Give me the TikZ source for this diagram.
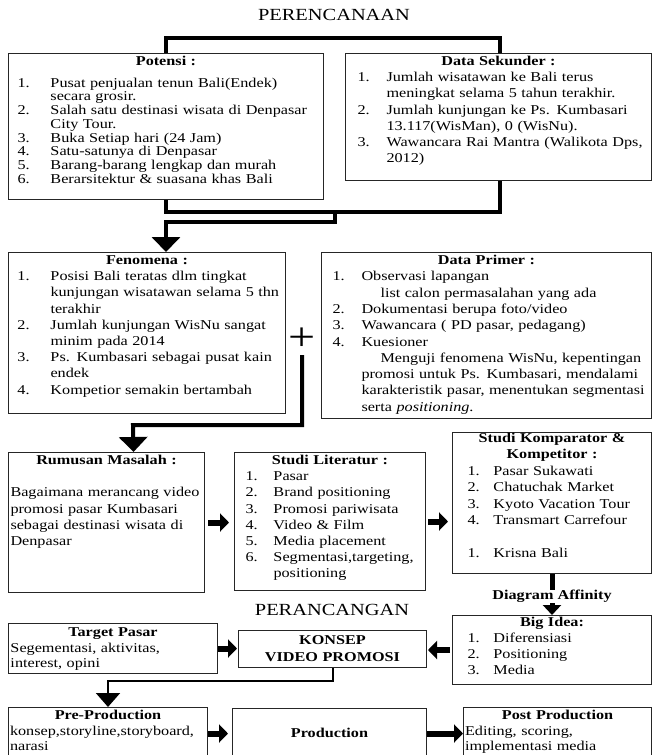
\documentclass[tikz,border=0pt]{standalone}
\usepackage{fontspec}
\setmainfont{Liberation Serif}[FakeStretch=1.2]
\usepackage{tikz}
\usetikzlibrary{arrows.meta, positioning, backgrounds}

\newlength{\numcol}
\newcommand{\nline}[2]{\mbox{\makebox[\numcol][l]{#1}#2}}

\begin{document}
\begin{tikzpicture}[
        x=1pt, y=-1pt,
        box/.style={rectangle, draw=black!85, fill=white, line width=1pt, anchor=north west, align=left, inner ysep=0pt, text height=12pt, font=\fontsize{13.5}{16.2}\selectfont},
        numcol/.code={\setlength{\numcol}{#1}},
        heading/.style={font=\fontsize{17}{17}\selectfont},
        thick_line/.style={line width=4pt},
        big_arrow/.style={thick_line, -{Triangle[width=28pt, length=15pt]}},
        small_arrow/.style={line width=6pt, -{Triangle[width=18pt, length=9pt]}}
    ]
    \useasboundingbox (0,0) rectangle (653,755);
    \clip (0,0) rectangle (653,755);

    \node[heading] (plan) at (334,15) {PERENCANAAN};
    \node[box, numcol=33pt, inner xsep=9pt, text width=297pt, text depth=134pt, font=\fontsize{13.5}{13.7}\selectfont] (potensi) at (8,53) {{\centering\textbf{Potensi :}\par}\vspace{8pt}\nline{1.}{Pusat penjualan tenun Bali(Endek)}\\ \nline{}{secara grosir.}\\ \nline{2.}{Salah satu destinasi wisata di Denpasar}\\ \nline{}{City Tour.}\\ \nline{3.}{Buka Setiap hari (24 Jam)}\\ \nline{4.}{Satu-satunya di Denpasar}\\ \nline{5.}{Barang-barang lengkap dan murah}\\ \nline{6.}{Berarsitektur \& suasana khas Bali}};
    \node[box, numcol=29pt, inner xsep=12pt, text width=282pt, text depth=115pt] (sekunder) at (345,53) {{\centering\textbf{Data Sekunder :}\par}\nline{1.}{Jumlah wisatawan ke Bali terus}\\ \nline{}{meningkat selama 5 tahun terakhir.}\\ \nline{2.}{Jumlah kunjungan ke Ps. Kumbasari}\\ \nline{}{13.117(WisMan), 0 (WisNu).}\\ \nline{3.}{Wawancara Rai Mantra (Walikota Dps,}\\ \nline{}{2012)}};

    \node[box, numcol=33pt, inner xsep=9pt, text width=259pt, text depth=149pt] (fenomena) at (8,252) {{\centering\textbf{Fenomena :}\par}\nline{1.}{Posisi Bali teratas dlm tingkat}\\ \nline{}{kunjungan wisatawan selama 5 thn}\\ \nline{}{terakhir}\\ \nline{2.}{Jumlah kunjungan WisNu sangat}\\ \nline{}{minim pada 2014}\\ \nline{3.}{Ps. Kumbasari sebagai pusat kain}\\ \nline{}{endek}\\ \nline{4.}{Kompetior semakin bertambah}};
    \node[box, numcol=29pt, inner xsep=11pt, text width=308pt, text depth=154pt, font=\fontsize{13.5}{16.3}\selectfont] (primer) at (321,252) {{\centering\textbf{Data Primer :}\par}\nline{1.}{Observasi lapangan}\\ \nline{}{\hspace*{19pt}list calon permasalahan yang ada}\\ \nline{2.}{Dokumentasi berupa foto/video}\\ \nline{3.}{Wawancara ( PD pasar, pedagang)}\\ \nline{4.}{Kuesioner}\\ \nline{}{\hspace*{19pt}Menguji fenomena WisNu, kepentingan}\\ \nline{}{promosi untuk Ps. Kumbasari, mendalami}\\ \nline{}{karakteristik pasar, menentukan segmentasi}\\ \nline{}{serta \textit{positioning}.}};
    \node[font=\fontsize{40}{40}\selectfont, anchor=south, inner sep=0pt] (plus) at (302,351) {+};

    \node[box, inner xsep=2pt, text width=192pt, text depth=128pt] (rumusan) at (8,452) {{\centering\textbf{Rumusan Masalah :}\par}\vspace{16.2pt}\mbox{Bagaimana merancang video}\\ \mbox{promosi pasar Kumbasari}\\ \mbox{sebagai destinasi wisata di}\\ Denpasar};
    \node[box, numcol=28pt, inner xsep=11pt, text width=169pt, text depth=126pt] (literatur) at (234,452) {{\centering\textbf{Studi Literatur :}\par}\nline{1.}{Pasar}\\ \nline{2.}{Brand positioning}\\ \nline{3.}{Promosi pariwisata}\\ \nline{4.}{Video \& Film}\\ \nline{5.}{Media placement}\\ \nline{6.}{Segmentasi,targeting,}\\ \nline{}{positioning}};
    \node[box, numcol=26pt, inner xsep=15pt, text width=169pt, text height=10pt, text depth=131pt, font=\fontsize{13.5}{16.4}\selectfont] (komparator) at (452,432) {{\centering\textbf{Studi Komparator \&}\\\textbf{Kompetitor :}\par}\nline{1.}{Pasar Sukawati}\\ \nline{2.}{Chatuchak Market}\\ \nline{3.}{Kyoto Vacation Tour}\\ \nline{4.}{Transmart Carrefour}\\[16.4pt] \nline{1.}{Krisna Bali}};

    \node[heading] (design) at (332,610) {PERANCANGAN};
    \node[box, inner xsep=2pt, text width=205pt, text height=13pt, text depth=37pt, font=\fontsize{13.5}{15.5}\selectfont] (target) at (8,623) {{\centering\textbf{Target Pasar}\par}\mbox{Segementasi, aktivitas,}\\ interest, opini};
    \node[box, align=center, inner xsep=2pt, text width=184pt, text height=14pt, text depth=23pt, font=\bfseries\fontsize{13.5}{17}\selectfont] (konsep) at (238,630) {KONSEP\\ VIDEO PROMOSI};
    \node[box, numcol=26pt, inner xsep=15pt, text width=169pt, text height=11pt, text depth=58pt, font=\fontsize{13.5}{16}\selectfont] (bigidea) at (452,615) {{\centering\textbf{Big Idea:}\par}\nline{1.}{Diferensiasi}\\ \nline{2.}{Positioning}\\ \nline{3.}{Media}};

    \node[box, inner xsep=1.5pt, text width=196pt, text depth=40pt, font=\fontsize{13.5}{15.5}\selectfont] (preprod) at (8,707) {{\centering\textbf{Pre-Production}\par}\mbox{konsep,storyline,storyboard,}\\ narasi};
    \node[box, align=center, inner xsep=2pt, text width=190pt, text height=29pt, text depth=21pt] (production) at (232,708) {\textbf{Production}};
    \node[box, inner xsep=1.5pt, text width=185pt, text depth=40pt, font=\fontsize{13.5}{15.5}\selectfont] (postprod) at (463,707) {{\centering\textbf{Post Production}\par}\mbox{Editing, scoring,}\\ \mbox{implementasi media}};

    \begin{scope}[on background layer]
    \draw[thick_line] (potensi.north) |- (500,38) -- (500,212) -| (potensi.south);
    \end{scope}
    \coordinate (merge) at (335,212);
    \draw[big_arrow] (merge) -- (335,222) -| (potensi.south |- fenomena.north);
    \draw[big_arrow] ([yshift=-4pt]plus.south) |- (133,425) -- ([xshift=27pt]rumusan.north);
    \draw[small_arrow, shorten <=3pt, shorten >=5pt] (rumusan.east) -- (rumusan.east -| literatur.west);
    \draw[small_arrow, shorten <=2pt, shorten >=4pt] (literatur.east) -- (literatur.east -| komparator.west);
    \draw[line width=5pt, -{Triangle[width=18pt, length=10pt]}] (komparator.south) -- node[pos=0.55, fill=white, inner sep=0pt, font=\bfseries\fontsize{13.5}{13.5}\selectfont] (affinity) {Diagram Affinity} (bigidea.north);
    \draw[small_arrow, shorten >=1pt] (target.east) -- (target.east -| konsep.west);
    \draw[small_arrow, shorten <=2pt, shorten >=1pt] (bigidea.west) -- (bigidea.west -| konsep.east);
    \draw[line width=2pt, -{Triangle[width=24pt, length=14pt]}] (konsep.south) -- ++(0,13) -| (preprod.north);
    \draw[small_arrow, shorten >=4pt] (preprod.east) -- (preprod.east -| production.west);
    \draw[small_arrow] (production.east) -- (production.east -| postprod.west);
\end{tikzpicture}
\end{document}
